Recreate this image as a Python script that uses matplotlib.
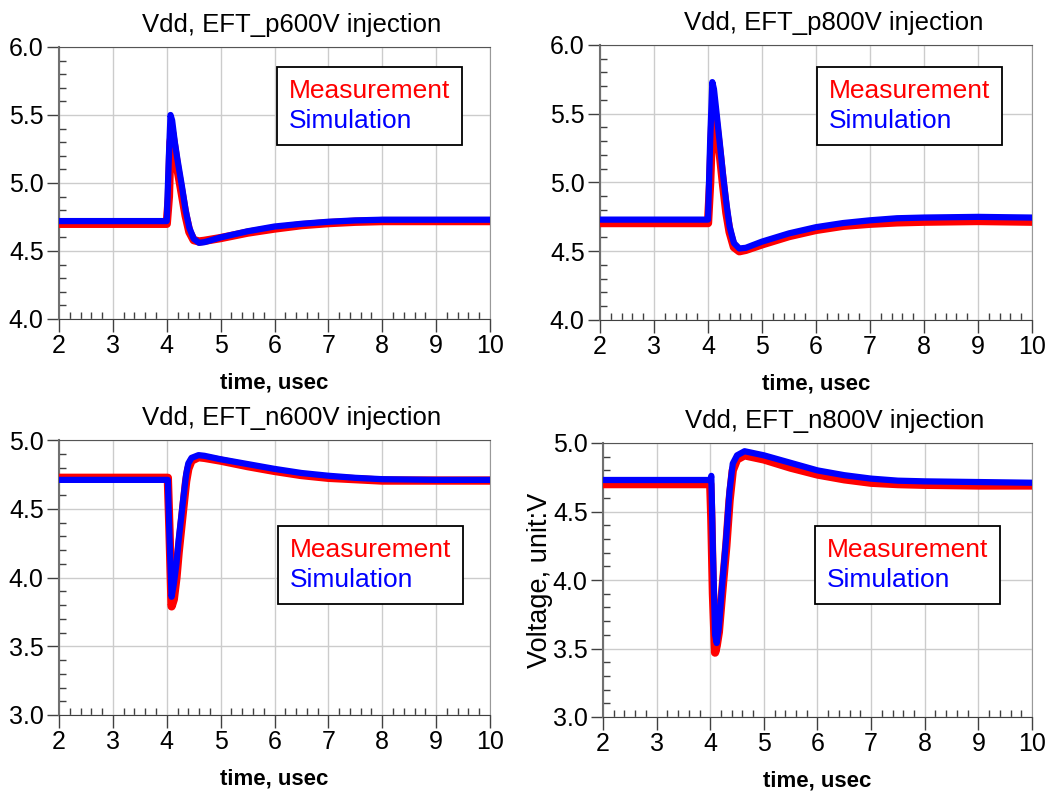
import matplotlib
matplotlib.use("Agg")
import matplotlib.pyplot as plt
from matplotlib.ticker import MultipleLocator, FormatStrFormatter

plt.rcParams['font.family'] = ['Liberation Sans', 'DejaVu Sans']

# ---- data (time in usec, voltage in V) ----
t_p600 = [2.0, 4.0, 4.04, 4.07, 4.10, 4.15, 4.20, 4.28, 4.35, 4.42, 4.50, 4.60, 4.70,
          5.0, 5.5, 6.0, 6.5, 7.0, 7.5, 8.0, 9.0, 10.0]
sim_p600 = [4.72, 4.72, 5.20, 5.50, 5.46, 5.30, 5.17, 4.98, 4.80, 4.67, 4.59, 4.56, 4.565,
            4.60, 4.645, 4.68, 4.70, 4.715, 4.725, 4.73, 4.73, 4.73]
meas_p600 = [4.70, 4.70, 4.90, 5.30, 5.37, 5.24, 5.10, 4.92, 4.76, 4.64, 4.58, 4.57, 4.575,
             4.595, 4.635, 4.665, 4.69, 4.705, 4.715, 4.72, 4.72, 4.72]

t_p800 = [2.0, 4.0, 4.04, 4.08, 4.11, 4.16, 4.22, 4.28, 4.34, 4.40, 4.48, 4.58, 4.70,
          5.0, 5.5, 6.0, 6.5, 7.0, 7.5, 8.0, 9.0, 10.0]
sim_p800 = [4.73, 4.73, 5.30, 5.73, 5.68, 5.50, 5.28, 5.05, 4.85, 4.68, 4.56, 4.52, 4.525,
            4.57, 4.63, 4.675, 4.705, 4.725, 4.74, 4.745, 4.75, 4.745]
meas_p800 = [4.705, 4.705, 5.0, 5.45, 5.55, 5.40, 5.20, 4.98, 4.78, 4.64, 4.53, 4.50, 4.51,
             4.55, 4.61, 4.655, 4.685, 4.70, 4.71, 4.715, 4.72, 4.715]

t_n600 = [2.0, 4.02, 4.05, 4.09, 4.13, 4.18, 4.22, 4.30, 4.36, 4.40, 4.46, 4.59, 4.70,
          5.0, 5.5, 6.0, 6.5, 7.0, 7.5, 8.0, 9.0, 10.0]
sim_n600 = [4.71, 4.71, 4.30, 3.86, 3.95, 4.10, 4.27, 4.55, 4.75, 4.83, 4.87, 4.89, 4.885,
            4.86, 4.825, 4.79, 4.76, 4.74, 4.725, 4.715, 4.71, 4.71]
meas_n600 = [4.725, 4.725, 4.35, 3.79, 3.84, 4.00, 4.18, 4.48, 4.70, 4.79, 4.85, 4.875, 4.87,
             4.85, 4.81, 4.775, 4.745, 4.725, 4.715, 4.705, 4.705, 4.705]

t_n800 = [2.0, 4.0, 4.02, 4.05, 4.09, 4.12, 4.16, 4.22, 4.30, 4.36, 4.42, 4.50, 4.64,
          5.0, 5.5, 6.0, 6.5, 7.0, 7.5, 8.0, 9.0, 10.0]
sim_n800 = [4.73, 4.73, 4.76, 4.20, 3.60, 3.54, 3.65, 3.95, 4.32, 4.65, 4.85, 4.91, 4.94,
            4.91, 4.855, 4.80, 4.765, 4.74, 4.725, 4.72, 4.715, 4.71]
meas_n800 = [4.70, 4.70, 4.45, 3.90, 3.47, 3.52, 3.62, 3.90, 4.25, 4.58, 4.80, 4.88, 4.91,
             4.88, 4.82, 4.77, 4.735, 4.71, 4.70, 4.695, 4.69, 4.69]

titles = ["Vdd, EFT_p600V injection", "Vdd, EFT_p800V injection",
          "Vdd, EFT_n600V injection", "Vdd, EFT_n800V injection"]
series = [(t_p600, meas_p600, sim_p600), (t_p800, meas_p800, sim_p800),
          (t_n600, meas_n600, sim_n600), (t_n800, meas_n800, sim_n800)]
ylims = [(4.0, 6.0), (4.0, 6.0), (3.0, 5.0), (3.0, 5.0)]
xticks = [2, 3, 4, 5, 6, 7, 8, 9, 10]
legend_names = ["Measurement", "Simulation"]

W, H = 1059, 794
fig = plt.figure(figsize=(W / 100, H / 100), dpi=100)

# axes boxes in pixels: left, right, top, bottom
boxes = [(59, 490, 47, 319), (600, 1032, 45, 320), (59, 490, 440, 715), (603, 1032, 443, 717)]
legend_pos = [(0.506, 0.926), (0.502, 0.92), (0.508, 0.687), (0.494, 0.697)]

for i, ((l, r, tp, b), (t, meas, sim)) in enumerate(zip(boxes, series)):
    ax = fig.add_axes([l / W, 1 - b / H, (r - l) / W, (b - tp) / H])
    ax.plot(t, meas, color='#ff0000', lw=6.0, solid_joinstyle='round', label=legend_names[0], zorder=3)
    ax.plot(t, sim, color='#0000ff', lw=4.5, solid_joinstyle='round', label=legend_names[1], zorder=4)
    ax.set_xlim(2, 10)
    ax.set_ylim(*ylims[i])
    ax.set_xticks(xticks)
    ax.yaxis.set_major_locator(MultipleLocator(0.5))
    ax.xaxis.set_minor_locator(MultipleLocator(0.2))
    ax.yaxis.set_minor_locator(MultipleLocator(0.1))
    ax.yaxis.set_major_formatter(FormatStrFormatter('%.1f'))
    ax.grid(True, which='major', color='#cccccc', lw=1.0, zorder=0)
    ax.set_axisbelow(True)
    ax.spines['top'].set_color('#555555')
    ax.spines['right'].set_color('#999999')
    ax.spines['left'].set_color('#707070')
    ax.spines['left'].set_linewidth(1.5)
    ax.spines['bottom'].set_color('#404040')
    ax.tick_params(which='major', direction='out', length=9, width=1, color='#404040',
                   top=False, right=False, labelsize=18, pad=2)
    ax.tick_params(which='minor', direction='in', length=5, width=1, color='#404040',
                   top=False, right=False)
    ax.set_xlabel("time, usec", fontsize=16, fontweight='bold', labelpad=10)
    ax.set_title(titles[i], fontsize=18.5, x=0.54, pad=11)
    if i == 3:
        ax.set_ylabel("Voltage, unit:V", fontsize=19.5, labelpad=0)
    leg = ax.legend(loc='upper left', bbox_to_anchor=legend_pos[i], borderaxespad=0,
                    handlelength=0, handletextpad=0, fontsize=19, fancybox=False,
                    framealpha=1, edgecolor='black', borderpad=0.45, labelspacing=0.22)
    leg.get_frame().set_linewidth(1.3)
    for txt, c in zip(leg.get_texts(), ['#ff0000', '#0000ff']):
        txt.set_color(c)
    for h in leg.legend_handles:
        h.set_visible(False)

fig.savefig("out.png", dpi=100)
